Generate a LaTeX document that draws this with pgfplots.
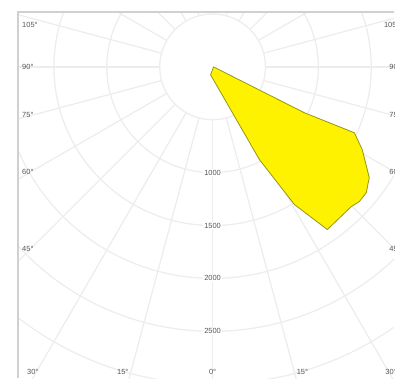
\documentclass[border=0pt]{standalone}
\usepackage{fontspec}
\setmainfont{Liberation Sans}
\usepackage{pgfplots}
\pgfplotsset{compat=1.18}
\definecolor{gridc}{RGB}{237,237,237}
\definecolor{framec}{RGB}{208,208,208}
\definecolor{labc}{RGB}{85,85,85}
\definecolor{edgec}{RGB}{150,150,20}
\tikzset{lab/.style={labc, font=\fontsize{7.5}{8}\selectfont, inner sep=1pt}}
\begin{document}
\begin{tikzpicture}
\begin{axis}[x=0.106bp, y=0.106bp, xmin=-1840, xmax=1717, ymin=-2943, ymax=519,
  hide axis, clip=true]
\pgfplotsinvokeforeach{500,1000,...,3500}{\draw[gridc, line width=1.3bp] (axis cs:0,0) circle[radius=#1];}
\pgfplotsinvokeforeach{0,15,...,345}{\addplot[gridc, line width=1.3bp, data cs=polar] coordinates {(#1,500) (#1,4000)};}
\addplot[fill=yellow, draw=edgec, line width=0.8bp] coordinates {
(9,0) (868,-434) (1340,-623) (1415,-783) (1481,-1047) (1453,-1189)
(1387,-1274) (1311,-1321) (1085,-1538) (774,-1302) (443,-877) (-19,-75)
} -- cycle;
% radial value labels
\node[lab, fill=white] at (axis cs:0,-1000) {1000};
\node[lab, fill=white] at (axis cs:0,-1500) {1500};
\node[lab, fill=white] at (axis cs:0,-2000) {2000};
\node[lab, fill=white] at (axis cs:0,-2500) {2500};
% angle labels left
\node[lab, anchor=west] at (axis cs:-1811,396) {105°};
\node[lab, anchor=west] at (axis cs:-1811,0) {90°};
\node[lab, anchor=west] at (axis cs:-1811,-453) {75°};
\node[lab, anchor=west] at (axis cs:-1811,-991) {60°};
\node[lab, anchor=west] at (axis cs:-1811,-1717) {45°};
\node[lab, anchor=west] at (axis cs:-1764,-2887) {30°};
% bottom
\node[lab] at (axis cs:-849,-2887) {15°};
\node[lab] at (axis cs:0,-2887) {0°};
\node[lab] at (axis cs:849,-2887) {15°};
\node[lab, anchor=west] at (axis cs:1623,-2887) {30°};
% right
\node[lab, anchor=west] at (axis cs:1610,396) {105°};
\node[lab, anchor=west] at (axis cs:1660,0) {90°};
\node[lab, anchor=west] at (axis cs:1660,-453) {75°};
\node[lab, anchor=west] at (axis cs:1660,-991) {60°};
\node[lab, anchor=west] at (axis cs:1660,-1717) {45°};
\end{axis}
\draw[framec, line width=1.6bp] (current axis.south west) -- (current axis.north west) -- (current axis.north east);
\path ([xshift=-18bp]current axis.south west) rectangle ([yshift=12bp]current axis.north east);
\end{tikzpicture}
\end{document}
